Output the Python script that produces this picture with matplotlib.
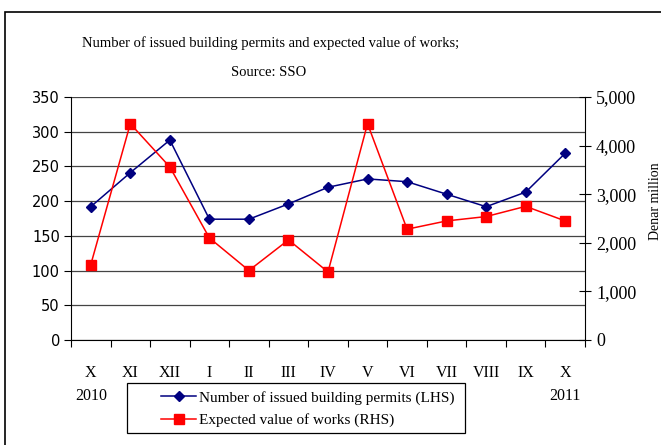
import matplotlib.pyplot as plt
from matplotlib.patches import Rectangle
from matplotlib.lines import Line2D

months = ['X', 'XI', 'XII', 'I', 'II', 'III', 'IV', 'V', 'VI', 'VII', 'VIII', 'IX', 'X']
permits = [192, 241, 288, 174, 174, 196, 220, 232, 228, 210, 192, 213, 269]
value_works = [1550, 4450, 3560, 2100, 1430, 2060, 1400, 4450, 2280, 2450, 2540, 2750, 2450]

serif = 'Liberation Serif'
sans = 'DejaVu Sans'

fig = plt.figure(figsize=(6.61, 4.45), dpi=100)
fig.patches.append(Rectangle((5 / 661, -0.1), 1.0, (445 - 12) / 445 + 0.1,
                             transform=fig.transFigure, fill=False,
                             edgecolor='black', lw=1.2))

ax = fig.add_axes([71 / 661, 105 / 445, 514 / 661, 243 / 445])
x = list(range(len(months)))

ax.set_xlim(-0.5, len(months) - 0.5)
ax.set_ylim(0, 350)
ax.set_yticks(range(0, 351, 50))
ax.grid(axis='y', color='#444444', lw=0.9)
ax.set_axisbelow(True)
for s in ['top', 'right']:
    ax.spines[s].set_visible(False)

ax.set_xticks([i - 0.5 for i in range(len(months) + 1)])
ax.set_xticklabels([])
ax.tick_params(axis='x', direction='out', length=5)
ax.tick_params(axis='y', direction='out', length=5, labelsize=10.5, pad=3)
for lab in ax.get_yticklabels():
    lab.set_fontfamily(sans)

for i, m in enumerate(months):
    ax.text(i, -47, m, ha='center', va='center', fontsize=11.5, family=serif)
ax.text(0, -80, '2010', ha='center', va='center', fontsize=11.5, family=serif)
ax.text(12, -80, '2011', ha='center', va='center', fontsize=11.5, family=serif)

ax.plot(x, permits, color='#000080', marker='D', markersize=5.5, lw=1.1, zorder=3)

ax2 = ax.twinx()
ax2.set_ylim(0, 5000)
ax2.set_yticks(range(0, 5001, 1000))
ax2.set_yticklabels(['0', '1,000', '2,000', '3,000', '4,000', '5,000'])
for s in ['top', 'left', 'bottom']:
    ax2.spines[s].set_visible(False)
ax2.tick_params(axis='y', direction='inout', length=8, labelsize=13, pad=4)
for lab in ax2.get_yticklabels():
    lab.set_fontfamily(serif)
ax2.plot(x, value_works, color='#ff0000', marker='s', markersize=6.5, lw=1.1, zorder=3)

fig.text(271 / 661, 1 - 43 / 445, 'Number of issued building permits and expected value of works;',
         ha='center', va='center', fontsize=10.5, family=serif)
fig.text(269 / 661, 1 - 72 / 445, 'Source: SSO', ha='center', va='center', fontsize=10.5, family=serif)
fig.text(649 / 661, 1 - 201 / 445, 'Denar million', rotation=90, ha='left', va='center',
         fontsize=10, family=serif)

handles = [Line2D([], [], color='#000080', marker='D', markersize=5.5, lw=1.1),
           Line2D([], [], color='#ff0000', marker='s', markersize=6.5, lw=1.1)]
fig.patches.append(Rectangle((127 / 661, 1 - 433 / 445), 338 / 661, 50 / 445,
                             transform=fig.transFigure, fill=True, facecolor='white',
                             edgecolor='black', lw=0.9))
leg = fig.legend(handles, ['Number of issued building permits (LHS)', 'Expected value of works (RHS)'],
                 loc='center left', bbox_to_anchor=(161 / 661, 1 - 409 / 445),
                 frameon=False, borderpad=0, borderaxespad=0,
                 prop={'family': serif, 'size': 11}, handlelength=2.3,
                 labelspacing=0.55, handletextpad=0.2)

fig.savefig('out.png', dpi=100)
